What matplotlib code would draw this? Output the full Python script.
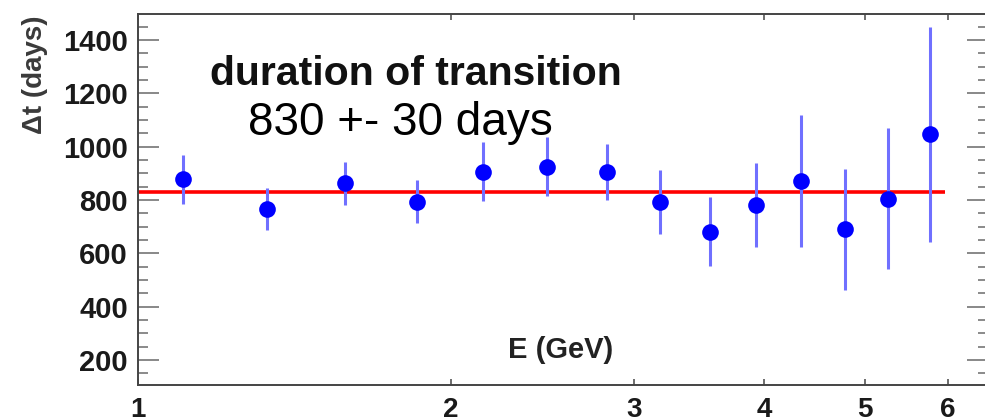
import matplotlib
matplotlib.use('Agg')
import matplotlib.pyplot as plt
from matplotlib.ticker import MultipleLocator, FixedLocator, NullLocator, NullFormatter

# ---- data ----
energy = [1.106, 1.331, 1.583, 1.855, 2.148, 2.474, 2.823, 3.178, 3.546, 3.923, 4.341, 4.777, 5.259, 5.767]
dt_days = [878, 766, 862, 794, 906, 925, 904, 794, 681, 781, 871, 690, 805, 1046]
dt_err = [92, 78, 81, 80, 110, 110, 105, 120, 130, 156, 247, 227, 264, 403]
fit_value = 830
fit_range = [1.0, 5.97]
x_ticks = [1, 2, 3, 4, 5, 6]
x_tick_labels = ['1', '2', '3', '4', '5', '6']
y_ticks = [200, 400, 600, 800, 1000, 1200, 1400]

title_text = 'duration of transition'
result_text = '830 +- 30 days'
xlabel_text = 'E (GeV)'
ylabel_text = '\u0394t (days)'

plt.rcParams['font.family'] = ['Liberation Sans', 'DejaVu Sans']

W, H = 985, 417
fig = plt.figure(figsize=(W / 100, H / 100), dpi=100)
fig.patch.set_facecolor('white')

left, right, top, bottom = 137.5, 988, 14, 385
ax = fig.add_axes([left / W, 1 - bottom / H, (right - left) / W, (bottom - top) / H])

ax.set_xscale('log')
ax.set_xlim(1.0, 6.56)
ax.set_ylim(106, 1497.5)

# fit line
ax.plot(fit_range, [fit_value, fit_value], color='#ff0000', lw=2.6, solid_capstyle='butt', zorder=2)

# error bars
ax.errorbar(energy, dt_days, yerr=dt_err, fmt='none', ecolor='#7070ff', elinewidth=2.2, capsize=0, zorder=3)
ax.plot(energy, dt_days, 'o', color='#0000ff', markersize=12, markeredgewidth=0, zorder=4)

# axes styling
for s in ax.spines.values():
    s.set_color('#444444')
    s.set_linewidth(1.4)

ax.xaxis.set_major_locator(FixedLocator(x_ticks))
ax.xaxis.set_minor_locator(NullLocator())
ax.xaxis.set_minor_formatter(NullFormatter())
ax.set_xticklabels(x_tick_labels)
ax.yaxis.set_major_locator(FixedLocator(y_ticks))
ax.yaxis.set_minor_locator(MultipleLocator(50))

ax.tick_params(axis='x', which='major', direction='in', length=4.5, width=1.2, color='#555555',
               top=True, bottom=True, pad=8.5, labelsize=20, labelcolor='#1a1a1a')
ax.tick_params(axis='y', which='major', direction='in', length=15, width=1.4, color='#888888',
               left=True, right=True, pad=7, labelsize=21, labelcolor='#1a1a1a')
ax.tick_params(axis='y', which='minor', direction='in', length=7.5, width=1.2, color='#777777',
               left=True, right=True)
for lab in ax.get_xticklabels() + ax.get_yticklabels():
    lab.set_fontweight('bold')

# x label inside the axes
fig.text(561 / W, 1 - 350 / H, xlabel_text, ha='center', va='center', fontsize=21,
         fontweight='bold', color='#222222')

# y label
fig.text(35 / W, 1 - 15 / H, ylabel_text, rotation=90, ha='center', va='top', fontsize=20,
         fontweight='bold', color='#3a3a3a')

# annotations
fig.text(210 / W, 1 - 85 / H, title_text, ha='left', va='baseline', fontsize=29.5,
         fontweight='bold', color='#111111')
fig.text(248 / W, 1 - 135 / H, result_text, ha='left', va='baseline', fontsize=33,
         color='#000000')

fig.savefig('out.png', dpi=100)
